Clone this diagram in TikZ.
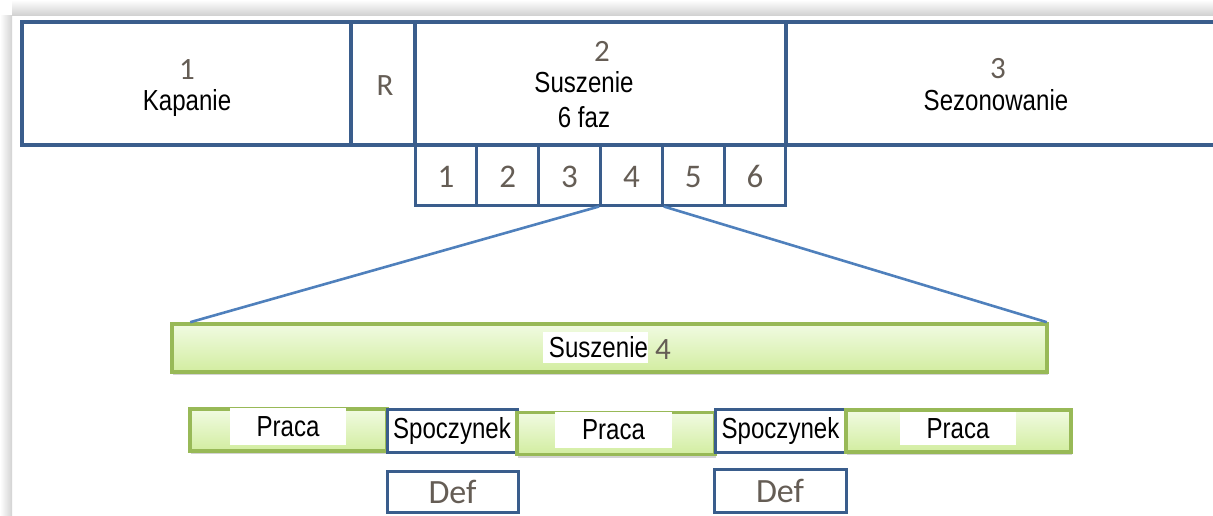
\documentclass[tikz,border=0pt]{standalone}
\usepackage{fontspec}
\newfontfamily\labfont[FakeStretch=0.83]{Liberation Sans}
\newfontfamily\numfont{Carlito}
\usetikzlibrary{shadows}
\definecolor{frameblue}{HTML}{3A5D8C}
\definecolor{zoomblue}{HTML}{4F80BC}
\definecolor{barlight}{HTML}{F1FBE2}
\definecolor{bardeep}{HTML}{D2EDA0}
\definecolor{baredge}{HTML}{98B957}
\definecolor{numgray}{HTML}{655D55}
\begin{document}
\begin{tikzpicture}[x=1pt,y=-1pt,
    box/.style={draw=frameblue,line width=3.6pt,minimum height=123pt,inner sep=0pt},
    phase/.style={draw=frameblue,line width=3pt,minimum height=60pt,minimum width=61.83pt,inner sep=0pt,text height=24pt,text depth=0pt,text=numgray,font=\numfont\fontsize{33}{36}\selectfont},
    lab/.style={font=\labfont\fontsize{29}{34}\selectfont,inner sep=0pt},
    num/.style={font=\numfont\fontsize{31}{34}\selectfont,text=numgray,inner sep=0pt},
    bar/.style={draw=baredge,line width=3.6pt,top color=barlight,bottom color=bardeep,inner sep=0pt,
        drop shadow={shadow xshift=1pt,shadow yshift=-3pt,opacity=0.35,fill=gray}},
    work/.style={bar,minimum height=42pt},
    rest/.style={draw=frameblue,line width=3pt,fill=white,minimum height=43pt,inner sep=0pt,lab},
    tag/.style={fill=white,inner xsep=6pt,inner ysep=0pt,lab},
    zoom/.style={draw=zoomblue,line width=2.6pt}]
\useasboundingbox (0,0) rectangle (1213,515);
\clip (0,0) rectangle (1213,515);
% frame shadow
\fill[top color=white,bottom color=gray!35] (12,0) rectangle (1213,15);
\fill[left color=white,right color=gray!35] (0,15) rectangle (12,515);
% top row
\node[box,minimum width=329pt] (kap) at (186.5,83.5) {};
\node[box,minimum width=64pt] (rob) at (383,83.5) {};
\node[box,minimum width=371pt] (sus) at (600.5,83.5) {};
\node[box,minimum width=444pt] (sez) at (1008,83.5) {};
\node[num,anchor=base] (kapn) at (187,79) {1};
\node[lab,anchor=base] (kapt) at (187,110) {Kapanie};
\node[num,anchor=base] (robn) at (385,95) {R};
\node[num,anchor=base] (susn) at (602,61) {2};
\node[lab,anchor=base] (sust) at (584,92) {Suszenie};
\node[lab,anchor=base] (susf) at (584,127) {6 faz};
\node[num,anchor=base] (sezn) at (998,78) {3};
\node[lab,anchor=base] (sezt) at (996,110) {Sezonowanie};
% six phases
\foreach \i in {1,...,6}
    \node[phase] (f\i) at ({415+61.83*(\i-0.5)},175) {\i};
% zoomed phase 4
\node[bar,minimum width=875pt,minimum height=48pt] (faza) at (609.5,348) {};
\draw[zoom] (f4.south west) -- ([xshift=20pt]faza.north west);
\draw[zoom] (f4.south east) -- ([xshift=-2pt]faza.north east);
\node[tag,text width=105pt,align=right,minimum height=31pt] (fazat) at (595.5,347.5) {Suszenie};
\node[num,anchor=base west] (fazan) at (655,359) {4};
% work / rest cycle
\node[work,minimum width=197pt] (pr1) at (288.5,430) {};
\node[rest,minimum width=130pt] (sp1) at (452,430.5) {Spoczynek};
\node[work,minimum width=198pt] (pr2) at (616,433.5) {};
\node[rest,minimum width=131pt] (sp2) at (780.5,430.5) {Spoczynek};
\node[work,minimum width=225pt] (pr3) at (958.5,431) {};
\node[tag,minimum width=116pt,minimum height=37pt] (pr1t) at (288,426.5) {Praca};
\node[tag,minimum width=117pt,minimum height=36pt] (pr2t) at (613.5,430) {Praca};
\node[tag,minimum width=116pt,minimum height=33pt] (pr3t) at (958,428.5) {Praca};
\node[rest,minimum width=131pt,minimum height=41pt,text=numgray,font=\numfont\fontsize{34}{36}\selectfont] (df1) at (452.5,491.5) {Def};
\node[rest,minimum width=132pt,minimum height=43pt,text=numgray,font=\numfont\fontsize{34}{36}\selectfont] (df2) at (780,490.5) {Def};
\end{tikzpicture}
\end{document}
